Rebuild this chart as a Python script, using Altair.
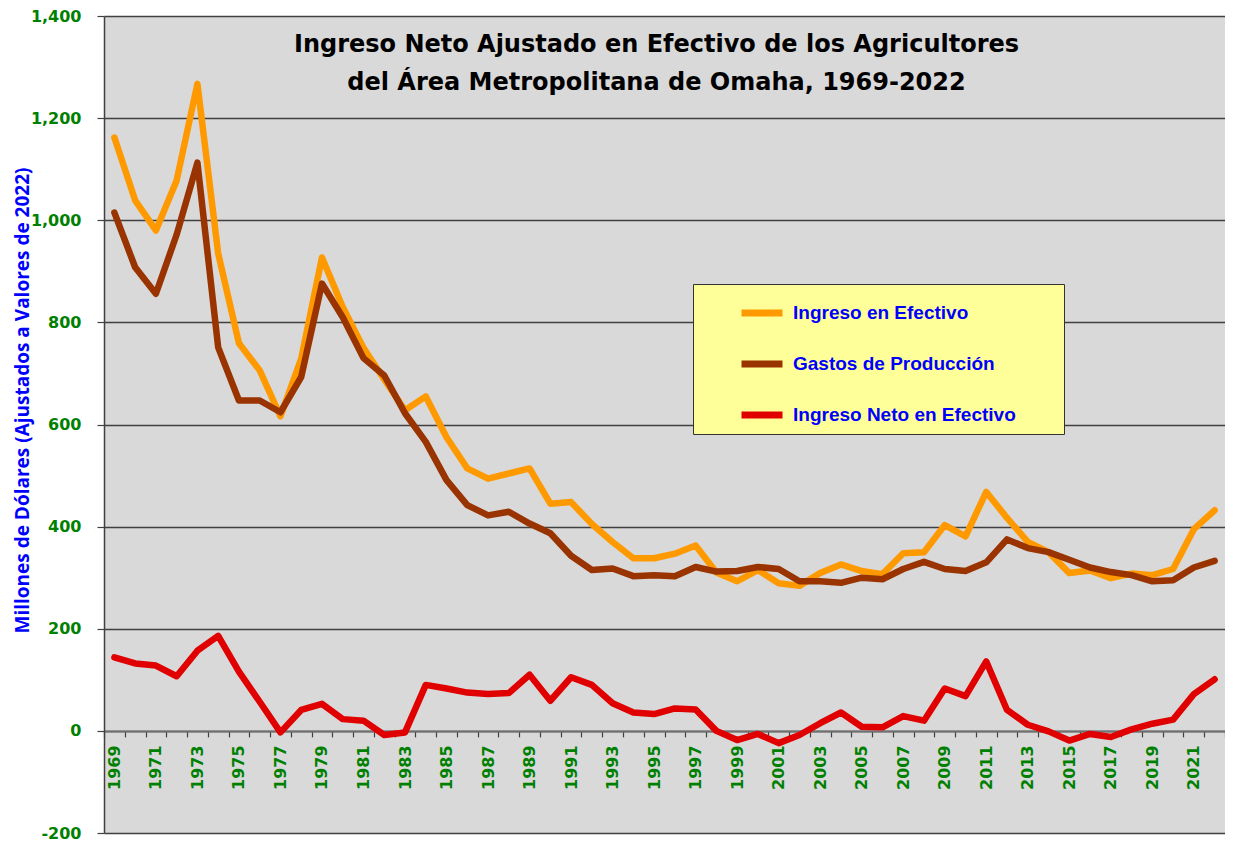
import altair as alt
import pandas as pd

years = list(range(1969, 2023))
ingreso_efectivo = [1162, 1039, 980, 1078, 1267, 935, 759, 706, 616, 729,
                    927, 830, 750, 688, 628, 655, 575, 514, 494, 504,
                    514, 445, 448, 405, 370, 338, 338, 347, 363, 310,
                    293, 315, 289, 284, 309, 326, 313, 307, 348, 350,
                    403, 381, 468, 417, 370, 350, 309, 314, 299, 308,
                    305, 317, 395, 432]
gastos_produccion = [1015, 908, 856, 972, 1113, 751, 647, 647, 624, 693,
                     876, 810, 730, 696, 622, 566, 491, 442, 422, 429,
                     406, 387, 343, 315, 318, 303, 305, 303, 321, 312,
                     313, 321, 317, 293, 293, 290, 300, 297, 317, 331,
                     317, 313, 330, 375, 358, 350, 335, 320, 311, 305,
                     293, 295, 320, 333]
ingreso_neto = [144, 132, 128, 107, 157, 186, 116, 57, -3, 41,
                53, 23, 20, -8, -3, 90, 83, 75, 72, 74,
                110, 59, 105, 90, 54, 36, 33, 44, 42, 0,
                -18, -6, -24, -8, 15, 36, 8, 7, 29, 20,
                83, 68, 136, 41, 12, -1, -19, -6, -12, 3,
                14, 22, 72, 101]
series_names = ["Ingreso en Efectivo", "Gastos de Producción", "Ingreso Neto en Efectivo"]
series_colors = ["#FF9900", "#993300", "#E00000"]
y_ticks = list(range(-200, 1401, 200))
title_lines = ["Ingreso Neto Ajustado en Efectivo de los Agricultores",
               "del Área Metropolitana de Omaha, 1969-2022"]
y_title = "Millones de Dólares (Ajustados a Valores de 2022)"

rows = []
for name, vals in zip(series_names, [ingreso_efectivo, gastos_produccion, ingreso_neto]):
    for yr, v in zip(years, vals):
        rows.append({"year": yr, "value": v, "serie": name})
df = pd.DataFrame(rows)

W, H = 1121, 817
zero_offset = -H * 200 / 1600

chart = alt.Chart(df).mark_line(strokeWidth=6.5, strokeJoin="round", strokeCap="round").encode(
    x=alt.X("year:O",
            scale=alt.Scale(type="band", paddingInner=0, paddingOuter=0),
            axis=alt.Axis(title=None, orient="bottom", offset=zero_offset, tickBand="extent",
                          labelExpr="datum.value % 2 == 1 ? datum.label : ''",
                          labelAngle=270, labelAlign="right", labelBaseline="middle",
                          labelFont="DejaVu Sans", labelFontWeight="bold", labelFontSize=16,
                          labelColor="#008000", labelPadding=8, labelOverlap=False,
                          tickSize=6, tickColor="#404040", tickWidth=1.2,
                          domainColor="#707070", domainWidth=2, grid=False)),
    y=alt.Y("value:Q",
            scale=alt.Scale(domain=[-200, 1400], nice=False, zero=False),
            axis=alt.Axis(values=y_ticks, format=",.0f",
                          labelExpr="replace(datum.label, '\u2212', '-')",
                          title=y_title,
                          titleFont="Open Sans", titleFontWeight="bold", titleFontSize=19,
                          titleColor="#0000FF", titleX=-82, titleY=384, titleAngle=270,
                          titleAlign="center", titleBaseline="middle",
                          labelFont="DejaVu Sans", labelFontWeight="bold", labelFontSize=16,
                          labelColor="#008000", labelPadding=16,
                          tickSize=7, tickColor="#404040", tickWidth=1.2,
                          domainColor="#404040", domainWidth=1.5,
                          grid=True, gridColor="#404040", gridWidth=1.3)),
    color=alt.Color("serie:N",
                    scale=alt.Scale(domain=series_names, range=series_colors),
                    legend=alt.Legend(title="\u00a0", titleOrient="right", titlePadding=43,
                                      titleFontSize=2,
                                      orient="none", legendX=589, legendY=268,
                                      fillColor="#FFFF99", strokeColor="#333333", padding=5,
                                      symbolType="stroke", symbolSize=1681, symbolStrokeWidth=7,
                                      symbolOffset=40, labelOffset=7, rowPadding=13,
                                      labelFont="Liberation Sans", labelFontWeight="bold",
                                      labelFontSize=19, labelColor="#0000FF", labelLimit=600)),
).properties(
    width=W, height=H,
    title=alt.TitleParams(text=title_lines, font="DejaVu Sans", fontSize=24, fontWeight="bold",
                          color="black", lineHeight=38, anchor="middle", dx=-8, dy=91),
    autosize=alt.AutoSizeParams(type="none"),
    padding={"left": 96, "top": 8, "right": 0, "bottom": 9},
    background="white",
).configure_view(fill="#D9D9D9", stroke="transparent")

chart.save("out.html", embed_options={"renderer": "svg", "actions": False})
